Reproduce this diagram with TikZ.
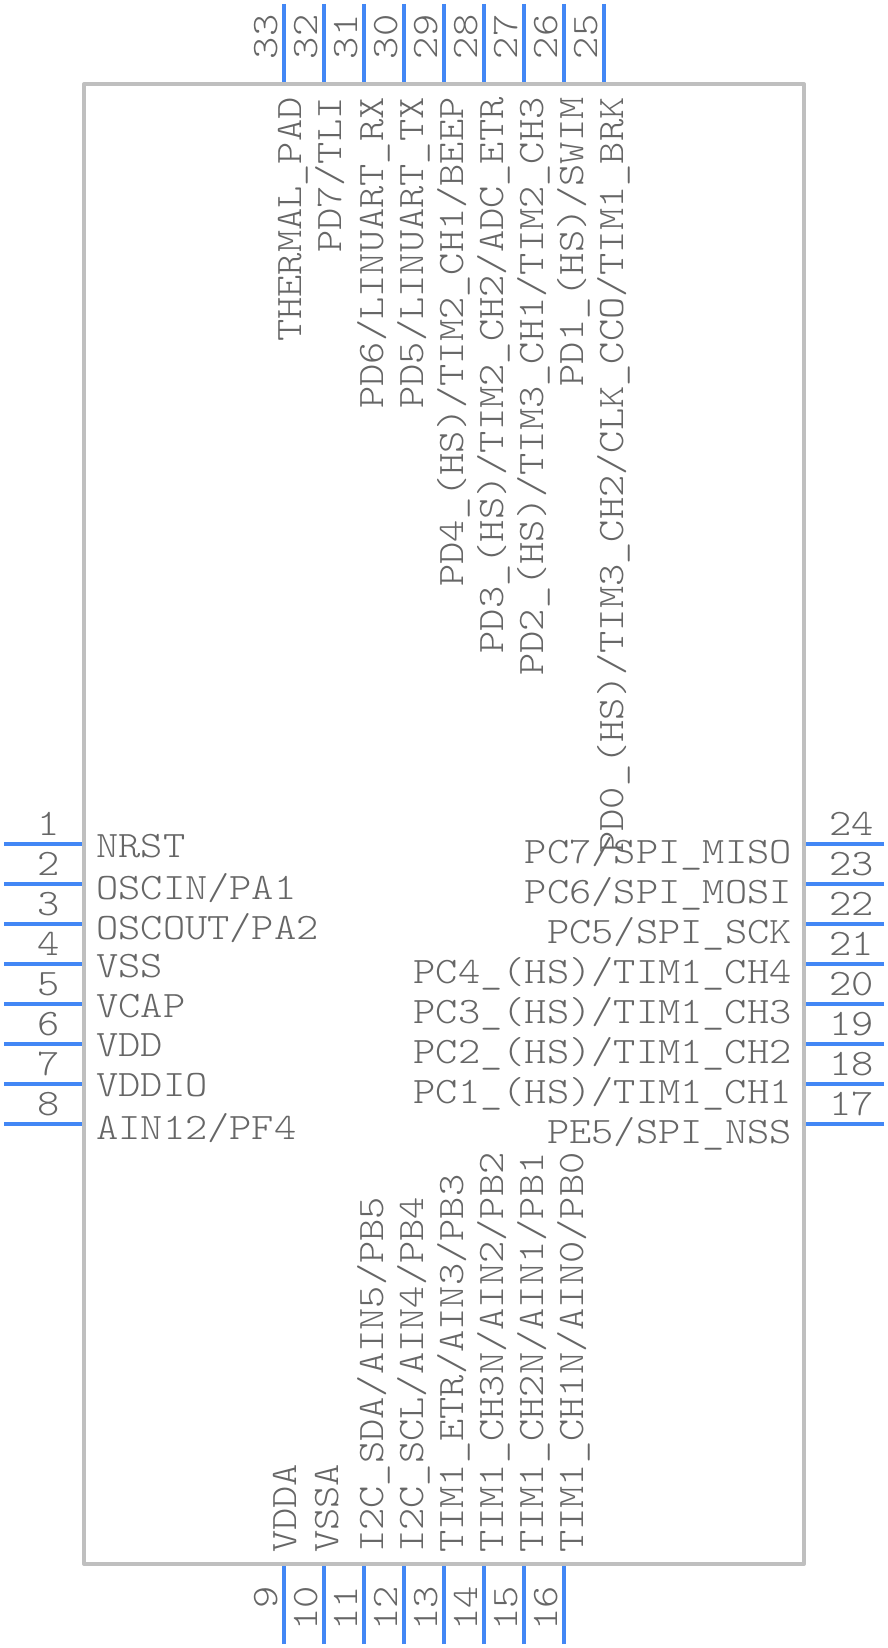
\documentclass[tikz,border=0pt]{standalone}
\usepackage{fontspec}
\setmonofont{Latin Modern Mono Light}[FakeStretch=1.135]

\definecolor{pinblue}{HTML}{4287F5}
\definecolor{boxgray}{HTML}{BFBFBF}
\definecolor{textgray}{HTML}{666666}

\newcommand{\us}{\_}

\begin{document}
\begin{tikzpicture}[
        x=0.75pt, y=-0.75pt,
        line join=round,
        pinstyle/.style = {line width=3pt, pinblue},
        boxstyle/.style = {line width=3pt, boxgray},
        labelstyle/.style = {inner sep=0pt, textgray, font=\ttfamily\fontsize{28}{30}\selectfont},
        numstyle/.style = {labelstyle}
    ]

    \useasboundingbox (0,0) rectangle (888,1648);

    % corners of the package
    \coordinate (c1) at (84,84);
    \coordinate (c2) at (804,84);
    \coordinate (c3) at (804,1564);
    \coordinate (c4) at (84,1564);

    \draw[boxstyle] (c1) -- (c2) -- (c3) -- (c4) -- cycle;

    % pins on the left and the right
    \foreach \n/\m in {0/1,1/2,2/3,3/4,4/5,5/6,6/7,7/8}{
        \coordinate (p\m) at (4,844+40*\n);
        \coordinate (q\m) at (82,844+40*\n);
        \draw[pinstyle] (p\m) -- (q\m);
        \node[numstyle, anchor=base east, name=num\m] at (60,835+40*\n) {\m};
    }
    \foreach \n/\m in {0/24,1/23,2/22,3/21,4/20,5/19,6/18,7/17}{
        \coordinate (p\m) at (884,844+40*\n);
        \coordinate (q\m) at (806,844+40*\n);
        \draw[pinstyle] (p\m) -- (q\m);
        \node[numstyle, anchor=base west, name=num\m] at (829,835+40*\n) {\m};
    }

    % pins on the top and the bottom
    \foreach \n/\m in {0/33,1/32,2/31,3/30,4/29,5/28,6/27,7/26,8/25}{
        \coordinate (p\m) at (284+40*\n,4);
        \coordinate (q\m) at (284+40*\n,82);
        \draw[pinstyle] (p\m) -- (q\m);
        \node[numstyle, rotate=90, anchor=base, name=num\m] at (277+40*\n,37) {\m};
    }
    \foreach \n/\m in {0/9,1/10,2/11,3/12,4/13,5/14,6/15,7/16}{
        \coordinate (p\m) at (284+40*\n,1644);
        \coordinate (q\m) at (284+40*\n,1566);
        \draw[pinstyle] (p\m) -- (q\m);
        \node[numstyle, rotate=90, anchor=base east, name=num\m] at (277+40*\n,1586) {\m};
    }

    % pin names
    \foreach \m/\y/\t in {1/857/NRST, 2/899/{OSCIN/PA1}, 3/939/{OSCOUT/PA2}, 4/977/VSS,
            5/1017/VCAP, 6/1056/VDD, 7/1096/VDDIO, 8/1139/{AIN12/PF4}}{
        \node[labelstyle, anchor=base west, name=lab\m] at (96,\y) {\t};
    }
    \foreach \m/\y/\t in {24/863/{PC7/SPI\us MISO}, 23/903/{PC6/SPI\us MOSI}, 22/943/{PC5/SPI\us SCK},
            21/983/{PC4\us(HS)/TIM1\us CH4}, 20/1023/{PC3\us(HS)/TIM1\us CH3},
            19/1063/{PC2\us(HS)/TIM1\us CH2}, 18/1103/{PC1\us(HS)/TIM1\us CH1},
            17/1143/{PE5/SPI\us NSS}}{
        \node[labelstyle, anchor=base east, name=lab\m] at (792,\y) {\t};
    }
    \foreach \m/\x/\t in {33/301/{THERMAL\us PAD}, 32/341/{PD7/TLI}, 31/383/{PD6/LINUART\us RX},
            30/423/{PD5/LINUART\us TX}, 29/463/{PD4\us(HS)/TIM2\us CH1/BEEP},
            28/503/{PD3\us(HS)/TIM2\us CH2/ADC\us ETR}, 27/543/{PD2\us(HS)/TIM3\us CH1/TIM2\us CH3},
            26/583/{PD1\us(HS)/SWIM}, 25/623/{PD0\us(HS)/TIM3\us CH2/CLK\us CCO/TIM1\us BRK}}{
        \node[labelstyle, rotate=90, anchor=base east, name=lab\m] at (\x,97) {\t};
    }
    \foreach \m/\x/\t in {9/296/VDDA, 10/338/VSSA, 11/383/{I2C\us SDA/AIN5/PB5},
            12/423/{I2C\us SCL/AIN4/PB4}, 13/463/{TIM1\us ETR/AIN3/PB3},
            14/503/{TIM1\us CH3N/AIN2/PB2}, 15/543/{TIM1\us CH2N/AIN1/PB1},
            16/583/{TIM1\us CH1N/AIN0/PB0}}{
        \node[labelstyle, rotate=90, anchor=base west, name=lab\m] at (\x,1553) {\t};
    }

\end{tikzpicture}
\end{document}
